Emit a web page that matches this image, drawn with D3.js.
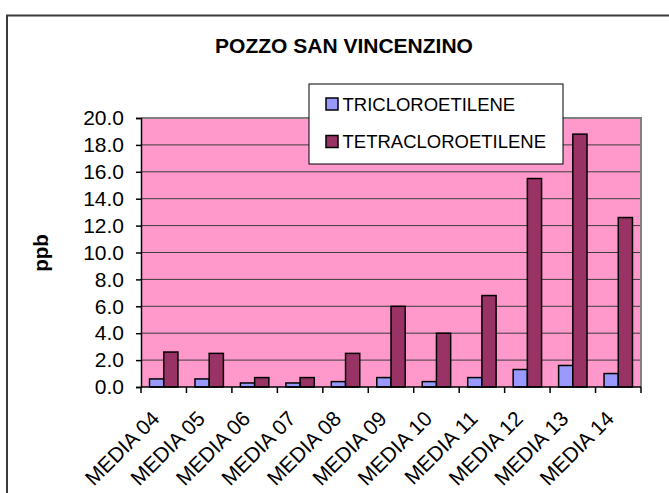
<!DOCTYPE html>
<html>
<head>
<meta charset="utf-8">
<script src="https://cdn.jsdelivr.net/npm/d3@7"></script>
<style>
    body { margin: 0; background: #fff; }
    svg { display: block; font-family: "Liberation Sans", Arial, sans-serif; }
</style>
</head>
<body>
<div class="canvas"></div>
<script>
// data
const categories = ['MEDIA 04', 'MEDIA 05', 'MEDIA 06', 'MEDIA 07', 'MEDIA 08', 'MEDIA 09',
    'MEDIA 10', 'MEDIA 11', 'MEDIA 12', 'MEDIA 13', 'MEDIA 14']
const seriesNames = ['TRICLOROETILENE', 'TETRACLOROETILENE']
const tricloro = [0.6, 0.6, 0.3, 0.3, 0.4, 0.7, 0.4, 0.7, 1.3, 1.6, 1.0]
const tetracloro = [2.6, 2.5, 0.7, 0.7, 2.5, 6.0, 4.0, 6.8, 15.5, 18.8, 12.6]
const yTicks = [0, 2, 4, 6, 8, 10, 12, 14, 16, 18, 20]

const colors = ['#9999FF', '#993366']

const data = categories.map((c, i) => ({ cat: c, values: [tricloro[i], tetracloro[i]] }))

// dimensions
const dimensions = { width: 669, height: 493 }
const margin = { top: 118, right: 28, bottom: 106, left: 141 }
const graphWidth = dimensions.width - margin.left - margin.right
const graphHeight = dimensions.height - margin.top - margin.bottom

const svg = d3.select('.canvas')
    .append('svg')
    .attr('width', dimensions.width)
    .attr('height', dimensions.height)

// outer chart frame
svg.append('rect')
    .attr('x', 7)
    .attr('y', 15.5)
    .attr('width', 700)
    .attr('height', 520)
    .attr('fill', 'none')
    .attr('stroke', '#3a3a3a')
    .attr('stroke-width', 2)

// title
svg.append('text')
    .attr('x', 344)
    .attr('y', 52.5)
    .attr('text-anchor', 'middle')
    .attr('font-weight', 'bold')
    .attr('font-size', 21)
    .text('POZZO SAN VINCENZINO')

const graph = svg.append('g')
    .attr('transform', `translate(${margin.left}, ${margin.top})`)

// scales
const y = d3.scaleLinear()
    .domain([0, 20])
    .range([graphHeight, 0])

const x = d3.scaleBand()
    .domain(categories)
    .range([0, graphWidth])

const x1 = d3.scaleBand()
    .domain(seriesNames)
    .range([0, x.bandwidth()])
    .paddingOuter(0.6)

// plot background
graph.append('rect')
    .attr('width', graphWidth)
    .attr('height', graphHeight)
    .attr('fill', '#FF99CC')

// gridlines
graph.append('g')
    .selectAll('line')
    .data(yTicks.filter(d => d > 0))
    .enter()
    .append('line')
    .attr('x1', 0)
    .attr('x2', graphWidth)
    .attr('y1', d => y(d))
    .attr('y2', d => y(d))
    .attr('stroke', '#3c3c3c')
    .attr('stroke-width', 1)

// plot border top + right
graph.append('path')
    .attr('d', `M0,${y(20)}H${graphWidth}V${graphHeight}`)
    .attr('fill', 'none')
    .attr('stroke', '#808080')
    .attr('stroke-width', 2)

// bars
const groups = graph.selectAll('g.cat')
    .data(data)
    .enter()
    .append('g')
    .attr('class', 'cat')
    .attr('transform', d => `translate(${x(d.cat)}, 0)`)

groups.selectAll('rect')
    .data(d => d.values.map((v, i) => ({ name: seriesNames[i], value: v, i })))
    .enter()
    .append('rect')
    .attr('x', d => x1(d.name))
    .attr('width', x1.bandwidth())
    .attr('y', d => y(d.value))
    .attr('height', d => graphHeight - y(d.value))
    .attr('fill', d => colors[d.i])
    .attr('stroke', '#000')
    .attr('stroke-width', 1.5)

// y axis
const yAxis = d3.axisLeft(y)
    .tickValues(yTicks)
    .tickSize(5)
    .tickPadding(12)
    .tickFormat(d => d.toFixed(1))

const yAxisGroup = graph.append('g').call(yAxis)
yAxisGroup.select('.domain').attr('stroke', '#000').attr('stroke-width', 1.5)
yAxisGroup.selectAll('.tick line').attr('stroke', '#000').attr('stroke-width', 1.5)
yAxisGroup.selectAll('text')
    .attr('font-size', 21)
    .attr('fill', '#000')
    .attr('font-family', '"Liberation Sans", Arial, sans-serif')

// x axis: tick marks on the category boundaries
const xAxisGroup = graph.append('g')
    .attr('transform', `translate(0, ${graphHeight})`)

xAxisGroup.append('line')
    .attr('x1', 0)
    .attr('x2', graphWidth)
    .attr('stroke', '#000')
    .attr('stroke-width', 1.5)

xAxisGroup.selectAll('line.tk')
    .data(categories.map(c => x(c)).concat([graphWidth]))
    .enter()
    .append('line')
    .attr('class', 'tk')
    .attr('x1', d => d)
    .attr('x2', d => d)
    .attr('y1', 0)
    .attr('y2', 6)
    .attr('stroke', '#000')
    .attr('stroke-width', 1.5)

// x labels, rotated
xAxisGroup.selectAll('text')
    .data(categories)
    .enter()
    .append('text')
    .attr('transform', d => `translate(${x(d) + x.bandwidth() / 2 - 3}, 33) rotate(-45)`)
    .attr('text-anchor', 'end')
    .attr('font-size', 21)
    .text(d => d)

// y axis title
svg.append('text')
    .attr('transform', 'translate(48, 253) rotate(-90)')
    .attr('text-anchor', 'middle')
    .attr('font-weight', 'bold')
    .attr('font-size', 20.5)
    .text('ppb')

// legend
const legend = svg.append('g')
    .attr('transform', 'translate(309, 84)')

legend.append('rect')
    .attr('width', 254)
    .attr('height', 80)
    .attr('fill', '#fff')
    .attr('stroke', '#000')
    .attr('stroke-width', 1)

const items = legend.selectAll('g.item')
    .data(seriesNames)
    .enter()
    .append('g')
    .attr('class', 'item')
    .attr('transform', (d, i) => `translate(17, ${14 + i * 37.5})`)

items.append('rect')
    .attr('width', 12)
    .attr('height', 12)
    .attr('fill', (d, i) => colors[i])
    .attr('stroke', '#000')
    .attr('stroke-width', 1.5)

items.append('text')
    .attr('x', 16.5)
    .attr('y', 12.5)
    .attr('font-size', 18.5)
    .text(d => d)
</script>
</body>
</html>
